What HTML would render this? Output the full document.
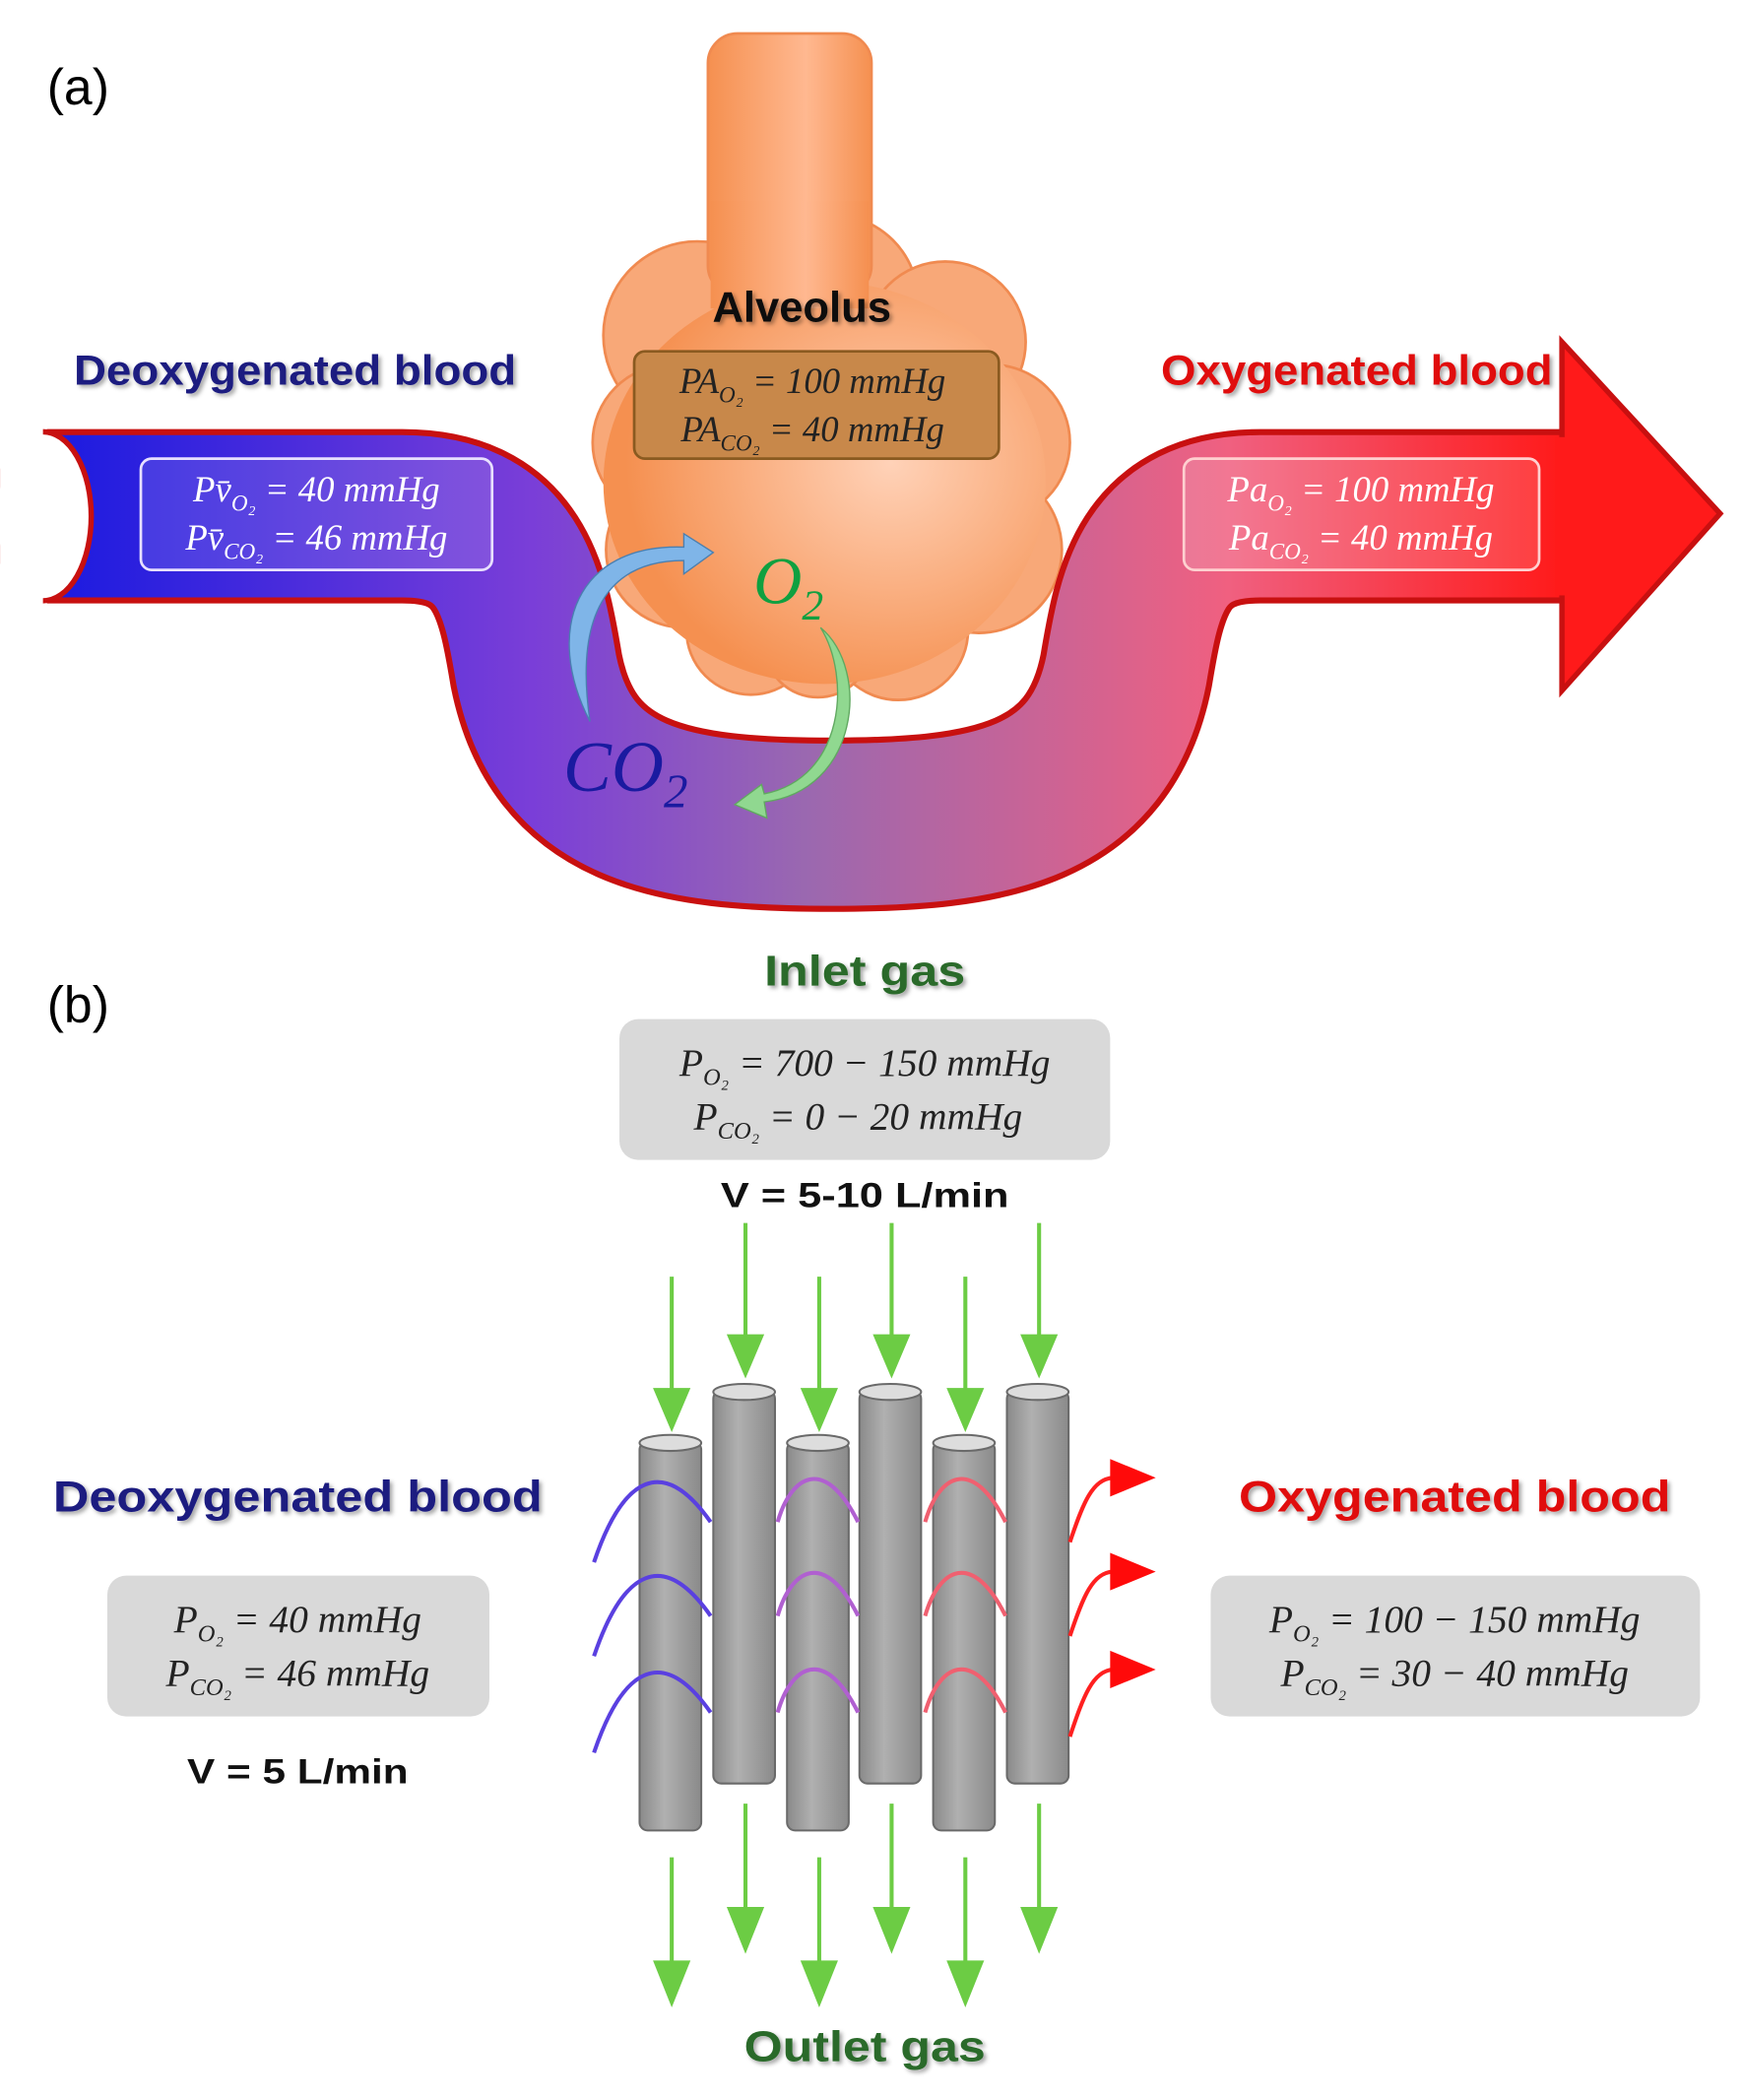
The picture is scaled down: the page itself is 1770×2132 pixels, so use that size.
<!DOCTYPE html>
<html><head><meta charset="utf-8"><style>
html,body{margin:0;padding:0;background:#fff;}
svg{display:block;}
.m{font-family:"Liberation Serif",serif;font-style:italic;}
.b{font-family:"Liberation Sans",sans-serif;font-weight:bold;}
</style></head><body>
<svg width="1770" height="2132" viewBox="0 0 1300 1566" xmlns="http://www.w3.org/2000/svg">
<defs>
<linearGradient id="tg" gradientUnits="userSpaceOnUse" x1="35" y1="0" x2="1165" y2="0">
<stop offset="0" stop-color="#1a1ae0"/><stop offset="0.32" stop-color="#7a3ed8"/>
<stop offset="0.5" stop-color="#9a68b0"/><stop offset="0.78" stop-color="#f06080"/>
<stop offset="1" stop-color="#ff1a1a"/></linearGradient>
<radialGradient id="al" cx="0.65" cy="0.45" r="0.6"><stop offset="0" stop-color="#ffd2b8"/><stop offset="1" stop-color="#f59050"/></radialGradient>
<linearGradient id="st" x1="0" x2="1"><stop offset="0" stop-color="#f59050"/><stop offset="0.6" stop-color="#ffb890"/><stop offset="1" stop-color="#f59050"/></linearGradient>
<linearGradient id="cy" x1="0" x2="1"><stop offset="0" stop-color="#8a8a8a"/><stop offset="0.4" stop-color="#b0b0b0"/><stop offset="1" stop-color="#8a8a8a"/></linearGradient>
<filter id="sh"><feDropShadow dx="2" dy="2" stdDeviation="1.5" flood-color="#000" flood-opacity="0.35"/></filter>
</defs>
<text x="35" y="78" font-family="Liberation Sans" font-size="38">(a)</text>
<!-- alveolus -->
<g fill="#f8a878" stroke="#f08a50" stroke-width="2">
<circle cx="520" cy="250" r="70"/><circle cx="620" cy="225" r="65"/><circle cx="705" cy="255" r="60"/>
<circle cx="500" cy="330" r="58"/><circle cx="740" cy="330" r="58"/>
<circle cx="510" cy="410" r="58"/><circle cx="730" cy="410" r="62"/>
<circle cx="560" cy="470" r="48"/><circle cx="670" cy="470" r="52"/><circle cx="610" cy="480" r="40"/>
</g>
<ellipse cx="615" cy="360" rx="165" ry="150" fill="url(#al)"/>
<rect x="528" y="25" width="122" height="195" rx="22" fill="url(#st)" stroke="#f08a50" stroke-width="2"/>
<rect x="530" y="150" width="118" height="80" fill="url(#st)"/>
<!-- tube -->
<path d="M35,385 L300,385 C380,385 390,440 400,500 C420,600 500,615 620,615 C740,615 820,600 840,500 C850,440 860,385 940,385 L1180,385" fill="none" stroke="#c81010" stroke-width="130"/>
<path d="M35,385 L300,385 C380,385 390,440 400,500 C420,600 500,615 620,615 C740,615 820,600 840,500 C850,440 860,385 940,385 L1180,385" fill="none" stroke="url(#tg)" stroke-width="121"/>
<polygon points="1165,255 1283,383 1165,515" fill="#ff1a1a" stroke="#c81010" stroke-width="4"/>
<rect x="1160" y="326" width="12" height="118" fill="#ff1a1a"/>
<ellipse cx="32" cy="385" rx="36" ry="63" fill="#fff" stroke="#c81010" stroke-width="4"/>
<rect x="0" y="310" width="32" height="150" fill="#fff"/>
<!-- boxes -->
<rect x="105" y="342" width="262" height="83" rx="8" fill="rgba(255,255,255,0.12)" stroke="#e8e0ff" stroke-width="2"/>
<text class="m" x="236" y="374" font-size="27" fill="#fff" text-anchor="middle">Pv̄<tspan font-size="17" dy="7">O₂</tspan><tspan dy="-7"> = 40 mmHg</tspan></text>
<text class="m" x="236" y="410" font-size="27" fill="#fff" text-anchor="middle">Pv̄<tspan font-size="17" dy="7">CO₂</tspan><tspan dy="-7"> = 46 mmHg</tspan></text>
<rect x="883" y="342" width="265" height="83" rx="8" fill="rgba(255,255,255,0.15)" stroke="#ffd0d0" stroke-width="2"/>
<text class="m" x="1015" y="374" font-size="27" fill="#fff" text-anchor="middle">Pa<tspan font-size="17" dy="7">O₂</tspan><tspan dy="-7"> = 100 mmHg</tspan></text>
<text class="m" x="1015" y="410" font-size="27" fill="#fff" text-anchor="middle">Pa<tspan font-size="17" dy="7">CO₂</tspan><tspan dy="-7"> = 40 mmHg</tspan></text>
<rect x="473" y="262" width="272" height="80" rx="8" fill="#c8884a" stroke="#8a5a20" stroke-width="2"/>
<text class="m" x="606" y="293" font-size="27" fill="#222" text-anchor="middle">PA<tspan font-size="17" dy="7">O₂</tspan><tspan dy="-7"> = 100 mmHg</tspan></text>
<text class="m" x="606" y="329" font-size="27" fill="#222" text-anchor="middle">PA<tspan font-size="17" dy="7">CO₂</tspan><tspan dy="-7"> = 40 mmHg</tspan></text>
<g filter="url(#sh)">
<text class="b" x="598" y="240" font-size="32" text-anchor="middle" fill="#111">Alveolus</text>
<text class="b" x="220" y="287" font-size="31" text-anchor="middle" fill="#1a1a80" textLength="330" lengthAdjust="spacingAndGlyphs">Deoxygenated blood</text>
<text class="b" x="1012" y="287" font-size="31" text-anchor="middle" fill="#e01010" textLength="292" lengthAdjust="spacingAndGlyphs">Oxygenated blood</text>
</g>
<!-- exchange arrows -->
<path d="M440,538 C405,470 430,405 510,408 L510,398 L532,412 L510,428 L510,418 C445,418 430,470 440,538 Z" fill="#7fb5e8" stroke="#4a7fb0" stroke-width="1"/>
<path d="M612,468 C650,500 640,590 570,598 L572,610 L548,600 L568,585 L570,592 C630,580 635,505 612,468 Z" fill="#90d890" stroke="#60a860" stroke-width="1"/>
<text class="m" x="562" y="450" font-size="50" fill="#10a040">O<tspan font-size="32" dy="12">2</tspan></text>
<text class="m" x="420" y="590" font-size="54" fill="#1a1aa0">CO<tspan font-size="36" dy="12">2</tspan></text>
<!-- (b) -->
<text x="35" y="762" font-family="Liberation Sans" font-size="38">(b)</text>
<g filter="url(#sh)">
<text class="b" x="645" y="735" font-size="32" text-anchor="middle" fill="#2a6a2a" textLength="150" lengthAdjust="spacingAndGlyphs">Inlet gas</text>
<text class="b" x="222" y="1127" font-size="33" text-anchor="middle" fill="#1a1a80" textLength="365" lengthAdjust="spacingAndGlyphs">Deoxygenated blood</text>
<text class="b" x="1085" y="1127" font-size="33" text-anchor="middle" fill="#e01010" textLength="322" lengthAdjust="spacingAndGlyphs">Oxygenated blood</text>
<text class="b" x="645" y="1537" font-size="32" text-anchor="middle" fill="#2a6a2a" textLength="180" lengthAdjust="spacingAndGlyphs">Outlet gas</text>
</g>
<rect x="462" y="760" width="366" height="105" rx="14" fill="#d9d9d9"/>
<text class="m" x="645" y="802" font-size="29" text-anchor="middle" fill="#222">P<tspan font-size="18" dy="7">O₂</tspan><tspan dy="-7"> = 700 − 150 mmHg</tspan></text>
<text class="m" x="640" y="842" font-size="29" text-anchor="middle" fill="#222">P<tspan font-size="18" dy="7">CO₂</tspan><tspan dy="-7"> = 0 − 20 mmHg</tspan></text>
<text class="b" x="645" y="900" font-size="26" text-anchor="middle" fill="#111" textLength="215" lengthAdjust="spacingAndGlyphs">V = 5-10  L/min</text>
<rect x="80" y="1175" width="285" height="105" rx="14" fill="#d9d9d9"/>
<text class="m" x="222" y="1217" font-size="29" text-anchor="middle" fill="#222">P<tspan font-size="18" dy="7">O₂</tspan><tspan dy="-7"> = 40 mmHg</tspan></text>
<text class="m" x="222" y="1257" font-size="29" text-anchor="middle" fill="#222">P<tspan font-size="18" dy="7">CO₂</tspan><tspan dy="-7"> = 46 mmHg</tspan></text>
<text class="b" x="222" y="1330" font-size="26" text-anchor="middle" fill="#111" textLength="165" lengthAdjust="spacingAndGlyphs">V = 5 L/min</text>
<rect x="903" y="1175" width="365" height="105" rx="14" fill="#d9d9d9"/>
<text class="m" x="1085" y="1217" font-size="29" text-anchor="middle" fill="#222">P<tspan font-size="18" dy="7">O₂</tspan><tspan dy="-7"> = 100 − 150 mmHg</tspan></text>
<text class="m" x="1085" y="1257" font-size="29" text-anchor="middle" fill="#222">P<tspan font-size="18" dy="7">CO₂</tspan><tspan dy="-7"> = 30 − 40 mmHg</tspan></text>
<!-- cylinders -->
<g stroke="#6a6a6a" stroke-width="1.5">
<rect x="477" y="1075" width="46" height="290" rx="6" fill="url(#cy)"/><ellipse cx="500" cy="1076" rx="23" ry="6" fill="#ddd"/>
<rect x="532" y="1037" width="46" height="293" rx="6" fill="url(#cy)"/><ellipse cx="555" cy="1038" rx="23" ry="6" fill="#ddd"/>
<rect x="587" y="1075" width="46" height="290" rx="6" fill="url(#cy)"/><ellipse cx="610" cy="1076" rx="23" ry="6" fill="#ddd"/>
<rect x="641" y="1037" width="46" height="293" rx="6" fill="url(#cy)"/><ellipse cx="664" cy="1038" rx="23" ry="6" fill="#ddd"/>
<rect x="696" y="1075" width="46" height="290" rx="6" fill="url(#cy)"/><ellipse cx="719" cy="1076" rx="23" ry="6" fill="#ddd"/>
<rect x="751" y="1037" width="46" height="293" rx="6" fill="url(#cy)"/><ellipse cx="774" cy="1038" rx="23" ry="6" fill="#ddd"/>
</g>
<!-- blood curves -->
<g fill="none" stroke-width="3">
<g stroke="#5a40e0">
<path d="M443,1165 C465,1100 495,1085 530,1135"/><path d="M443,1235 C465,1170 495,1155 530,1205"/><path d="M443,1307 C465,1242 495,1227 530,1277"/></g>
<g stroke="#b060d0">
<path d="M580,1135 C590,1100 615,1085 640,1135"/><path d="M580,1205 C590,1170 615,1155 640,1205"/><path d="M580,1277 C590,1242 615,1227 640,1277"/></g>
<g stroke="#f06070">
<path d="M690,1135 C700,1100 725,1085 750,1135"/><path d="M690,1205 C700,1170 725,1155 750,1205"/><path d="M690,1277 C700,1242 725,1227 750,1277"/></g>
<g stroke="#ff2020">
<path d="M798,1150 C808,1120 815,1103 830,1102"/><path d="M798,1220 C808,1190 815,1173 830,1172"/><path d="M798,1295 C808,1265 815,1246 830,1245"/></g>
</g>
<g fill="#ff0a0a">
<polygon points="828,1088 862,1102 828,1116"/><polygon points="828,1158 862,1172 828,1186"/><polygon points="828,1231 862,1245 828,1259"/></g>
<!-- gas arrows -->
<g stroke="#6ccc44" stroke-width="3">
<line x1="501" y1="952" x2="501" y2="1040"/><line x1="556" y1="912" x2="556" y2="1000"/><line x1="611" y1="952" x2="611" y2="1040"/>
<line x1="665" y1="912" x2="665" y2="1000"/><line x1="720" y1="952" x2="720" y2="1040"/><line x1="775" y1="912" x2="775" y2="1000"/>
<line x1="501" y1="1385" x2="501" y2="1470"/><line x1="556" y1="1345" x2="556" y2="1430"/><line x1="611" y1="1385" x2="611" y2="1470"/>
<line x1="665" y1="1345" x2="665" y2="1430"/><line x1="720" y1="1385" x2="720" y2="1470"/><line x1="775" y1="1345" x2="775" y2="1430"/>
</g>
<g fill="#6ccc44">
<polygon points="487,1035 515,1035 501,1068"/><polygon points="542,995 570,995 556,1028"/><polygon points="597,1035 625,1035 611,1068"/>
<polygon points="651,995 679,995 665,1028"/><polygon points="706,1035 734,1035 720,1068"/><polygon points="761,995 789,995 775,1028"/>
<polygon points="487,1462 515,1462 501,1497"/><polygon points="542,1422 570,1422 556,1457"/><polygon points="597,1462 625,1462 611,1497"/>
<polygon points="651,1422 679,1422 665,1457"/><polygon points="706,1462 734,1462 720,1497"/><polygon points="761,1422 789,1422 775,1457"/>
</g>
</svg>
</body></html>
